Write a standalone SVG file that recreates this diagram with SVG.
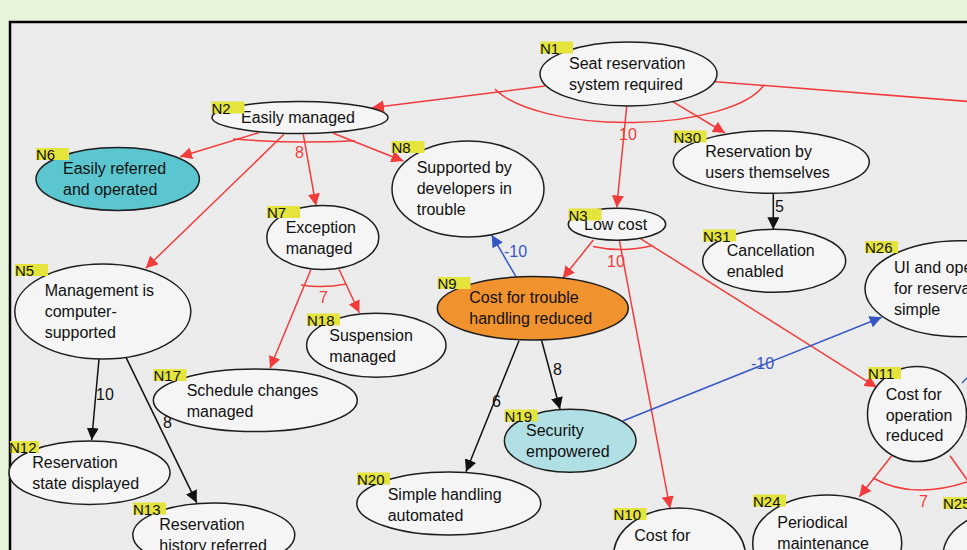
<svg xmlns="http://www.w3.org/2000/svg" width="967" height="550" viewBox="0 0 967 550">
<defs>
<pattern id="dots" width="2" height="2" patternUnits="userSpaceOnUse">
<rect width="2" height="2" fill="#e8e8e8"/>
<rect width="1" height="1" fill="#efefef"/>
<rect x="1" y="1" width="1" height="1" fill="#efefef"/>
</pattern>
<marker id="ar" markerUnits="userSpaceOnUse" markerWidth="12" markerHeight="12" refX="12" refY="6" orient="auto"><path d="M0,0 L12,6 L0,12 z" fill="#f23c3c"/></marker>
<marker id="ak" markerUnits="userSpaceOnUse" markerWidth="12" markerHeight="12" refX="12" refY="6" orient="auto"><path d="M0,0 L12,6 L0,12 z" fill="#111"/></marker>
<marker id="ab" markerUnits="userSpaceOnUse" markerWidth="12" markerHeight="12" refX="12" refY="6" orient="auto"><path d="M0,0 L12,6 L0,12 z" fill="#3558c4"/></marker>
</defs>
<style>
text{font-family:"Liberation Sans",Arial,sans-serif;}
.n ellipse{fill:#f5f5f5;stroke:#1e1e1e;stroke-width:1.5;}
.n text{font-size:16px;fill:#111;}
.n rect{fill:#e4e43c;}
.n text.id{font-size:15px;fill:#111;}
.e path{fill:none;stroke-width:1.5;}
.r{stroke:#f23c3c;}
.k{stroke:#111;}
.b{stroke:#3558c4;}
.e .r.m{marker-end:url(#ar);}
.e .k.m{marker-end:url(#ak);}
.e .b.m{marker-end:url(#ab);}
.el{font-size:16px;}
.elr{fill:#f23c3c;}
.elk{fill:#111;}
.elb{fill:#3558c4;}
</style>
<rect width="967" height="550" fill="#e6f4dc"/>
<rect x="10" y="22" width="1000" height="600" fill="url(#dots)" stroke="#000" stroke-width="2.5"/>

<g id="connectors" class="e">
<path class="r m" d="M545,86 L372,107.7"/>
<path class="r m" d="M626.7,106 L616.7,207.5"/>
<path class="r m" d="M672.7,101.7 L725,133"/>
<path class="r" d="M715,81.7 L975,102"/>
<path class="r" d="M495,89 A140,49 0 0 0 764,85"/>
<path class="r m" d="M258.7,132.7 L180,156.7"/>
<path class="r m" d="M284,134.3 L145.7,268.3"/>
<path class="r m" d="M303.3,134.3 L316,205.7"/>
<path class="r m" d="M333.3,133.3 L403.3,161"/>
<path class="r" d="M233,139 Q295,144 355,140.7"/>
<path class="r m" d="M310.7,270 L270,368.3"/>
<path class="r m" d="M339,269.3 L359.3,312.7"/>
<path class="r" d="M301,285 Q323,288.5 346,284"/>
<path class="k m" d="M99,359 L91.7,440"/>
<path class="k m" d="M126,357.3 L196.7,502.7"/>
<path class="b m" d="M516,276.7 L491.7,235"/>
<path class="r m" d="M593.3,240 L562.7,278.3"/>
<path class="r m" d="M619.3,240 L670,508.3"/>
<path class="r m" d="M640,238.3 L876.7,387.3"/>
<path class="r" d="M593,246.5 Q622,253 653,245.5"/>
<path class="k m" d="M773.3,194 L773.3,229.3"/>
<path class="k m" d="M541.7,340.7 L560,409.3"/>
<path class="k m" d="M519,340.7 L466,471.7"/>
<path class="b m" d="M622.7,421 L881.7,317.3"/>
<path class="r m" d="M891.7,455.7 L859.3,496.7"/>
<path class="r" d="M950,455.7 L980,498"/>
<path class="r" d="M873,478 Q912,500 967,482"/>
<path class="b" d="M962,383 L975,370"/>
<text class="el elr" x="619" y="140">10</text>
<text class="el elr" x="295" y="158">8</text>
<text class="el elr" x="319" y="303">7</text>
<text class="el elk" x="96" y="400">10</text>
<text class="el elk" x="163" y="428">8</text>
<text class="el elb" x="504" y="257">-10</text>
<text class="el elr" x="607" y="267">10</text>
<text class="el elk" x="775" y="212">5</text>
<text class="el elk" x="553" y="375">8</text>
<text class="el elk" x="492" y="407">6</text>
<text class="el elb" x="751" y="369">-10</text>
<text class="el elr" x="919" y="507">7</text>
</g>

<g id="N1" class="n"><ellipse cx="628.5" cy="74" rx="88.5" ry="32"/><text x="569" y="69">Seat reservation</text><text x="569" y="90">system required</text><rect x="540" y="41.5" width="33" height="12"/><text class="id" x="540" y="53.5">N1</text></g>
<g id="N2" class="n"><ellipse cx="300" cy="117.5" rx="88" ry="16"/><text x="241" y="123">Easily managed</text><rect x="211.5" y="101.5" width="33" height="12"/><text class="id" x="211.5" y="113.5">N2</text></g>
<g id="N6" class="n"><ellipse cx="117.7" cy="179" rx="81.7" ry="31.5" style="fill:#5bc6cf"/><text x="63" y="174">Easily referred</text><text x="63" y="195">and operated</text><rect x="36" y="148" width="33" height="12"/><text class="id" x="36" y="160">N6</text></g>
<g id="N8" class="n"><ellipse cx="468" cy="189" rx="76" ry="48"/><text x="416.7" y="173">Supported by</text><text x="416.7" y="194">developers in</text><text x="416.7" y="215">trouble</text><rect x="391.5" y="141" width="33" height="12"/><text class="id" x="391.5" y="153">N8</text></g>
<g id="N7" class="n"><ellipse cx="322.8" cy="237.5" rx="56" ry="32"/><text x="285.7" y="233">Exception</text><text x="285.7" y="254">managed</text><rect x="267" y="206" width="33" height="12"/><text class="id" x="267" y="218">N7</text></g>
<g id="N5" class="n"><ellipse cx="102.8" cy="311.5" rx="88" ry="47.5"/><text x="44.7" y="296">Management is</text><text x="44.7" y="317">computer-</text><text x="44.7" y="338">supported</text><rect x="15" y="264" width="33" height="12"/><text class="id" x="15" y="276">N5</text></g>
<g id="N18" class="n"><ellipse cx="376.3" cy="345.3" rx="69.7" ry="32"/><text x="329.3" y="341">Suspension</text><text x="329.3" y="362">managed</text><rect x="307" y="313.5" width="33" height="12"/><text class="id" x="307" y="325.5">N18</text></g>
<g id="N17" class="n"><ellipse cx="255.3" cy="400.3" rx="102" ry="31.3"/><text x="186.7" y="396">Schedule changes</text><text x="186.7" y="417">managed</text><rect x="153.5" y="369" width="33" height="12"/><text class="id" x="153.5" y="381">N17</text></g>
<g id="N12" class="n"><ellipse cx="89.5" cy="472.7" rx="80.5" ry="31.7"/><text x="32.3" y="468.3">Reservation</text><text x="32.3" y="489.3">state displayed</text><rect x="10" y="441" width="29" height="12"/><text class="id" x="9" y="453">N12</text></g>
<g id="N13" class="n"><ellipse cx="213.8" cy="535" rx="81" ry="32"/><text x="159.3" y="530">Reservation</text><text x="159.3" y="551">history referred</text><rect x="133" y="502.5" width="33" height="12"/><text class="id" x="133" y="514.5">N13</text></g>
<g id="N9" class="n"><ellipse cx="532.8" cy="308.3" rx="95.5" ry="31.7" style="fill:#f0922e"/><text x="469.3" y="303.3">Cost for trouble</text><text x="469.3" y="324.3">handling reduced</text><rect x="437.5" y="277" width="33" height="12"/><text class="id" x="437.5" y="289">N9</text></g>
<g id="N3" class="n"><ellipse cx="617" cy="224.2" rx="48.7" ry="16"/><text x="584" y="230">Low cost</text><rect x="568.5" y="208.5" width="33" height="12"/><text class="id" x="568.5" y="220.5">N3</text></g>
<g id="N30" class="n"><ellipse cx="771.3" cy="162" rx="98" ry="31.3"/><text x="705.3" y="156.7">Reservation by</text><text x="705.3" y="177.7">users themselves</text><rect x="673.5" y="130.5" width="33" height="12"/><text class="id" x="673.5" y="142.5">N30</text></g>
<g id="N31" class="n"><ellipse cx="774.2" cy="260.8" rx="71.5" ry="31.5"/><text x="726.7" y="256">Cancellation</text><text x="726.7" y="277">enabled</text><rect x="703" y="229.5" width="33" height="12"/><text class="id" x="703" y="241.5">N31</text></g>
<g id="N26" class="n"><ellipse cx="960" cy="288.7" rx="95" ry="48"/><text x="894" y="273.3">UI and operation</text><text x="894" y="294">for reservation</text><text x="894" y="315">simple</text><rect x="865" y="241" width="33" height="12"/><text class="id" x="865" y="253">N26</text></g>
<g id="N11" class="n"><ellipse cx="917" cy="414" rx="49.5" ry="47.5"/><text x="885.7" y="400">Cost for</text><text x="885.7" y="420.7">operation</text><text x="885.7" y="441">reduced</text><rect x="868" y="367" width="33" height="12"/><text class="id" x="868" y="379">N11</text></g>
<g id="N19" class="n"><ellipse cx="570.2" cy="440.8" rx="65.8" ry="31.5" style="fill:#b0dfe4"/><text x="526" y="436">Security</text><text x="526" y="456.7">empowered</text><rect x="504.5" y="409.5" width="33" height="12"/><text class="id" x="504.5" y="421.5">N19</text></g>
<g id="N20" class="n"><ellipse cx="448.8" cy="503.5" rx="92" ry="31.5"/><text x="387.7" y="500">Simple handling</text><text x="387.7" y="521">automated</text><rect x="357" y="472.5" width="33" height="12"/><text class="id" x="357" y="484.5">N20</text></g>
<g id="N10" class="n"><ellipse cx="679.5" cy="556" rx="66" ry="48"/><text x="634.3" y="541">Cost for</text><rect x="613.5" y="508" width="33" height="12"/><text class="id" x="613.5" y="520">N10</text></g>
<g id="N24" class="n"><ellipse cx="827.2" cy="543" rx="74.5" ry="48"/><text x="777.3" y="528.3">Periodical</text><text x="777.3" y="549">maintenance</text><rect x="753" y="494.5" width="33" height="12"/><text class="id" x="753" y="506.5">N24</text></g>
<g id="N25" class="n"><ellipse cx="1017" cy="556" rx="74" ry="48"/><rect x="943" y="497" width="33" height="12"/><text class="id" x="943" y="509">N25</text></g>
</svg>
